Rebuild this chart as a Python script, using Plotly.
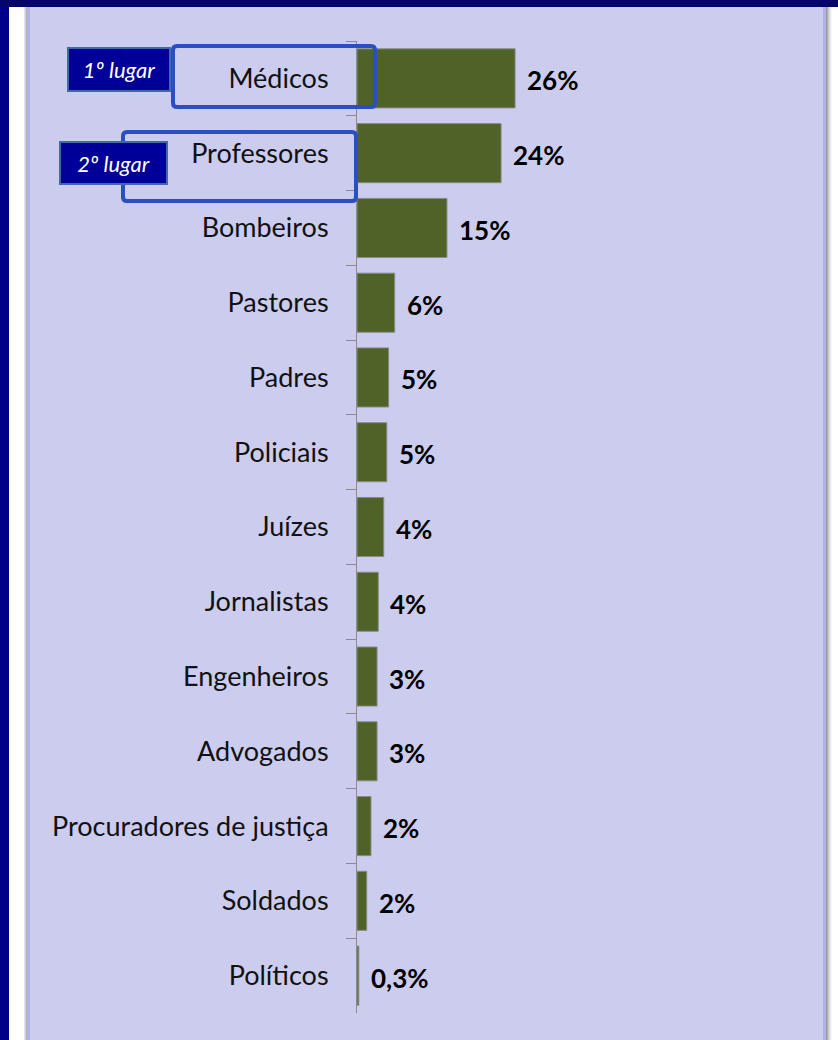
import plotly.graph_objects as go

categories = ["Médicos", "Professores", "Bombeiros", "Pastores", "Padres", "Policiais",
              "Juízes", "Jornalistas", "Engenheiros", "Advogados",
              "Procuradores de justiça", "Soldados", "Políticos"]
values = [26.0, 23.7, 14.8, 6.2, 5.2, 4.9, 4.4, 3.5, 3.3, 3.3, 2.3, 1.6, 0.3]
value_labels = ["26%", "24%", "15%", "6%", "5%", "5%", "4%", "4%", "3%", "3%", "2%", "2%", "0,3%"]
rank_labels = ["1º lugar", "2º lugar"]

W, H = 838, 1040
L, R, T, B = 357, 15, 41, 27
PW, PH = W - L - R, H - T - B
X_MAX = PW / 6.08

def px(x):
    return (x - L) / PW

def py(y):
    return 1 - (y - T) / PH

def rounded_path(x0, y0, x1, y1, r):
    pts = [
        f"M {px(x0 + r)},{py(y0)}",
        f"L {px(x1 - r)},{py(y0)}",
        f"Q {px(x1)},{py(y0)} {px(x1)},{py(y0 + r)}",
        f"L {px(x1)},{py(y1 - r)}",
        f"Q {px(x1)},{py(y1)} {px(x1 - r)},{py(y1)}",
        f"L {px(x0 + r)},{py(y1)}",
        f"Q {px(x0)},{py(y1)} {px(x0)},{py(y1 - r)}",
        f"L {px(x0)},{py(y0 + r)}",
        f"Q {px(x0)},{py(y0)} {px(x0 + r)},{py(y0)}",
        "Z",
    ]
    return " ".join(pts)

FONT = "Lato"
BAR = "#4F6228"

fig = go.Figure()
fig.add_trace(go.Bar(
    x=values, y=categories, orientation="h",
    marker=dict(color=BAR, line=dict(color="#8a8a8a", width=1)),
    hoverinfo="skip",
))

shapes = []
# outer frame pieces
shapes.append(dict(type="rect", xref="paper", yref="paper", x0=px(0), x1=px(W), y0=py(0), y1=py(H),
                   fillcolor="white", line_width=0, layer="below"))
shapes.append(dict(type="rect", xref="paper", yref="paper", x0=px(0), x1=px(9), y0=py(0), y1=py(H),
                   fillcolor="#00008A", line_width=0, layer="below"))
shapes.append(dict(type="rect", xref="paper", yref="paper", x0=px(0), x1=px(W), y0=py(0), y1=py(7),
                   fillcolor="#06066A", line_width=0, layer="below"))
# shadows
for i, c in enumerate(["#e4e4e4", "#cfcfcf", "#b8b8b8"]):
    shapes.append(dict(type="rect", xref="paper", yref="paper", x0=px(24 + i), x1=px(25 + i), y0=py(7), y1=py(H),
                       fillcolor=c, line_width=0, layer="below"))
for i, c in enumerate(["#9a9a9a", "#b0b0b0", "#c8c8c8", "#dcdcdc", "#ececec", "#f6f6f6"]):
    shapes.append(dict(type="rect", xref="paper", yref="paper", x0=px(826 + i), x1=px(827 + i), y0=py(7), y1=py(H),
                       fillcolor=c, line_width=0, layer="below"))
# lavender panel with darker edge
shapes.append(dict(type="rect", xref="paper", yref="paper", x0=px(27), x1=px(826), y0=py(7), y1=py(H),
                   fillcolor="#B2B2E6", line_width=0, layer="below"))
shapes.append(dict(type="rect", xref="paper", yref="paper", x0=px(30), x1=px(823), y0=py(7), y1=py(H),
                   fillcolor="#CCCCEF", line_width=0, layer="below"))

# highlight outlines (rounded)
OUT = "#2A4FC0"
shapes.append(dict(type="path", xref="paper", yref="paper", path=rounded_path(173, 46, 375, 107, 4),
                   line=dict(color=OUT, width=4), fillcolor="rgba(0,0,0,0)", layer="above"))
shapes.append(dict(type="path", xref="paper", yref="paper", path=rounded_path(123, 132, 356, 201, 4),
                   line=dict(color=OUT, width=4), fillcolor="rgba(0,0,0,0)", layer="above"))

annotations = []
for cat, v, lab in zip(categories, values, value_labels):
    annotations.append(dict(x=v, y=cat, xref="x", yref="y", text="<b>" + lab + "</b>",
                            showarrow=False, xanchor="left", yanchor="middle", xshift=10, yshift=-2,
                            font=dict(family=FONT, size=26, color="black")))

boxes = [(67, 171, 47, 92), (59, 168, 141, 185)]
for (x0, x1, y0, y1), lab in zip(boxes, rank_labels):
    annotations.append(dict(x=px((x0 + x1) / 2), y=py((y0 + y1) / 2), xref="paper", yref="paper",
                            xanchor="center", yanchor="middle",
                            text="<i>" + lab + "</i>", showarrow=False,
                            width=x1 - x0 - 4, height=y1 - y0 - 4,
                            bgcolor="#000099", bordercolor="#3F68B0", borderwidth=2, borderpad=0,
                            font=dict(family=FONT, size=22, color="white")))

fig.update_layout(
    width=W, height=H,
    margin=dict(l=L, r=R, t=T, b=B),
    paper_bgcolor="white", plot_bgcolor="rgba(0,0,0,0)",
    showlegend=False, bargap=0.21,
    shapes=shapes, annotations=annotations,
    xaxis=dict(range=[0, X_MAX], visible=False, fixedrange=True),
    yaxis=dict(type="category", categoryorder="array", categoryarray=categories,
               range=[len(categories) - 0.5, -0.5], fixedrange=True,
               showline=True, linecolor="#8c8c8c", linewidth=1,
               ticks="outside", tickson="boundaries", ticklen=10, tickcolor="#8c8c8c",
               ticklabelstandoff=22, showgrid=False, zeroline=False,
               tickfont=dict(family=FONT, size=27, color="#111111")),
)

fig.write_html("out.html", config={"displayModeBar": False},
               post_script="document.body.style.margin='0';document.body.style.overflow='hidden';")
